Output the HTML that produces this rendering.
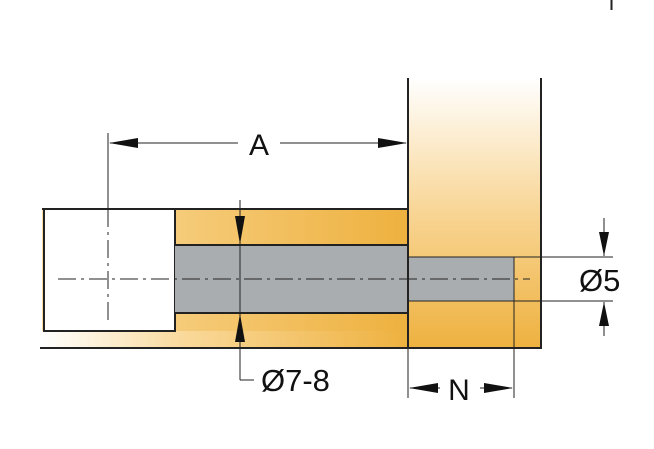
<!DOCTYPE html>
<html><head><style>html,body{margin:0;padding:0;background:#fff}svg{display:block}</style></head><body>
<svg width="654" height="449" viewBox="0 0 654 449" xmlns="http://www.w3.org/2000/svg" font-family="Liberation Sans, sans-serif">
<defs>
<linearGradient id="hg" x1="0" y1="0" x2="1" y2="0"><stop offset="0" stop-color="#fadb9c"/><stop offset="1" stop-color="#eeb13f"/></linearGradient>
<linearGradient id="bg" x1="0" y1="0" x2="1" y2="0"><stop offset="0" stop-color="#ffffff"/><stop offset="0.4" stop-color="#f9d898"/><stop offset="1" stop-color="#eeb13f"/></linearGradient>
<linearGradient id="vg" x1="0" y1="0" x2="0" y2="1"><stop offset="0" stop-color="#ffffff"/><stop offset="0.5" stop-color="#f8d594"/><stop offset="1" stop-color="#eeb13f"/></linearGradient>
</defs>
<rect x="610.5" y="0" width="2" height="10" fill="#222"/>
<!-- side panel -->
<rect x="408" y="78" width="133" height="270" fill="url(#vg)"/>
<rect x="408" y="257" width="106" height="44" fill="#a9adb0"/>
<!-- left panel -->
<rect x="42" y="209" width="366" height="139" fill="url(#hg)"/>
<rect x="42" y="331" width="366" height="17" fill="url(#bg)"/>
<rect x="44" y="209" width="131" height="122" fill="#fff" stroke="#222" stroke-width="2"/>
<rect x="175" y="245" width="233" height="68" fill="#a9adb0"/>
<line x1="408" y1="78" x2="408" y2="349" stroke="#222" stroke-width="2"/>
<line x1="541" y1="78" x2="541" y2="349" stroke="#222" stroke-width="2"/>
<line x1="408" y1="348" x2="541" y2="348" stroke="#222" stroke-width="2"/>
<line x1="408" y1="257" x2="613" y2="257" stroke="#222" stroke-width="1"/>
<line x1="408" y1="301" x2="613" y2="301" stroke="#222" stroke-width="1"/>
<line x1="514" y1="257" x2="514" y2="398" stroke="#222" stroke-width="1"/>
<line x1="42" y1="209" x2="408" y2="209" stroke="#222" stroke-width="2"/>
<line x1="175" y1="245" x2="408" y2="245" stroke="#222" stroke-width="2"/>
<line x1="175" y1="313" x2="408" y2="313" stroke="#222" stroke-width="2"/>
<line x1="40" y1="348" x2="408" y2="348" stroke="#222" stroke-width="2"/>
<!-- centre lines -->
<line x1="58" y1="279" x2="530" y2="279" stroke="#222" stroke-width="1" stroke-dasharray="18,5,3,5"/>
<line x1="108" y1="209" x2="108" y2="322" stroke="#222" stroke-width="1" stroke-dasharray="18,5,3,5"/>
<!-- A dimension -->
<line x1="108" y1="133" x2="108" y2="209" stroke="#222" stroke-width="1"/>
<line x1="110" y1="143" x2="238" y2="143" stroke="#222" stroke-width="1"/>
<line x1="280" y1="143" x2="406" y2="143" stroke="#222" stroke-width="1"/>
<polygon points="109,143 138,138 138,148" fill="#111"/>
<polygon points="407,143 378,138 378,148" fill="#111"/>
<text x="259" y="155" font-size="30" text-anchor="middle" fill="#111">A</text>
<!-- Ø7-8 -->
<line x1="240" y1="200" x2="240" y2="380" stroke="#222" stroke-width="1"/>
<line x1="240" y1="380" x2="254" y2="380" stroke="#222" stroke-width="1"/>
<polygon points="240,244 235,216 245,216" fill="#111"/>
<polygon points="240,314 235,342 245,342" fill="#111"/>
<text x="261" y="391" font-size="31" fill="#111">Ø7-8</text>
<!-- Ø5 -->
<line x1="604" y1="218" x2="604" y2="256" stroke="#222" stroke-width="1"/>
<line x1="604" y1="302" x2="604" y2="336" stroke="#222" stroke-width="1"/>
<polygon points="604,256 599,232 609,232" fill="#111"/>
<polygon points="604,302 599,326 609,326" fill="#111"/>
<text x="579" y="291" font-size="31" fill="#111">Ø5</text>
<!-- N -->
<line x1="408" y1="349" x2="408" y2="398" stroke="#222" stroke-width="1"/>
<line x1="410" y1="388" x2="440" y2="388" stroke="#222" stroke-width="1"/>
<line x1="480" y1="388" x2="512" y2="388" stroke="#222" stroke-width="1"/>
<polygon points="409,388 438,383 438,393" fill="#111"/>
<polygon points="513,388 484,383 484,393" fill="#111"/>
<text x="459" y="400" font-size="30" text-anchor="middle" fill="#111">N</text>
</svg>
</body></html>
